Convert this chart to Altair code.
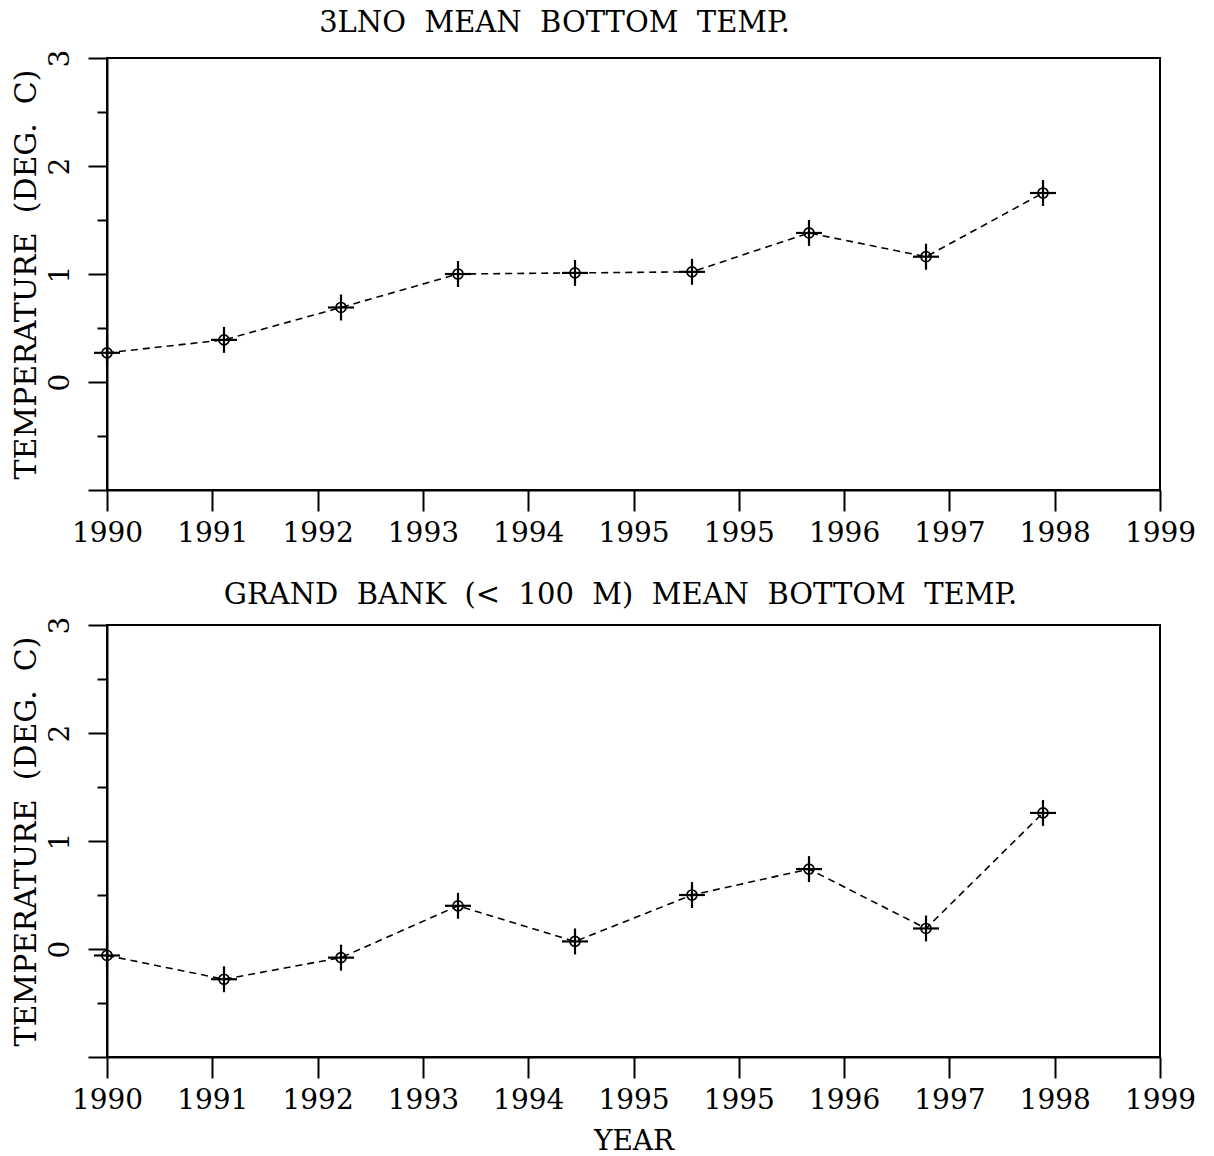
import altair as alt
import pandas as pd

# Survey years and mean bottom temperatures (deg C)
years = [1990, 1991, 1992, 1993, 1994, 1995, 1996, 1997, 1998]
temp_3lno = [0.27, 0.39, 0.69, 1.00, 1.01, 1.02, 1.38, 1.16, 1.75]
temp_grand_bank = [-0.06, -0.28, -0.08, 0.40, 0.07, 0.50, 0.74, 0.19, 1.26]
temp_err = [0.12, 0.12, 0.12, 0.12, 0.12, 0.12, 0.12, 0.12, 0.12]

# Year axis: eleven evenly spaced ticks across 1990-1999 with rounded labels
x_tick_values = [1990.0, 1990.9, 1991.8, 1992.7, 1993.6, 1994.5,
                 1995.4, 1996.3, 1997.2, 1998.1, 1999.0]
x_tick_labels = ["1990", "1991", "1992", "1993", "1994", "1995",
                 "1995", "1996", "1997", "1998", "1999"]
y_tick_values = [-1, -0.5, 0, 0.5, 1, 1.5, 2, 2.5, 3]

FONT = "DejaVu Serif"
NB = "\u00a0"

x_label_expr = ("[" + ",".join(f"'{l}'" for l in x_tick_labels) + "]"
                "[round((datum.value - 1990) / 0.9)]")


def panel(values, title, title_dx, title_offset, x_title):
    df = pd.DataFrame({"year": years, "temp": values, "err": temp_err})
    df["lo"] = df["temp"] - df["err"]
    df["hi"] = df["temp"] + df["err"]

    x = alt.X(
        "year:Q",
        scale=alt.Scale(domain=[1990, 1999], nice=False, zero=False),
        axis=alt.Axis(
            values=x_tick_values,
            labelExpr=x_label_expr,
            labelOverlap=False,
            labelFlush=False,
            title=x_title if x_title else None,
            tickSize=21,
            labelPadding=8,
            titlePadding=13,
        ),
    )
    y = alt.Y(
        "temp:Q",
        scale=alt.Scale(domain=[-1, 3], nice=False, zero=False),
        axis=alt.Axis(
            values=y_tick_values,
            labelExpr="(datum.value == -1 || datum.value % 1 != 0) ? '' : format(datum.value, 'd')",
            labelAngle=-90,
            tickSize={"condition": {"test": "datum.value % 1 === 0", "value": 19}, "value": 10},
            labelPadding=14,
            title="TEMPERATURE" + NB + NB + "(DEG." + NB + NB + "C)",
            titleFontSize=30,
            titlePadding=5,
        ),
    )

    base = alt.Chart(df)
    line = base.mark_line(color="black", strokeWidth=1.6, strokeDash=[7, 5]).encode(x=x, y=y)
    vbar = base.mark_rule(color="black", strokeWidth=2.2).encode(x="year:Q", y="lo:Q", y2="hi:Q")
    hbar = base.mark_point(shape="M-1,0L1,0", size=676, color="black",
                           strokeWidth=2.2, opacity=1).encode(x="year:Q", y="temp:Q")
    ring = base.mark_point(shape="circle", size=100, color="black",
                           strokeWidth=1.7, opacity=1, filled=False).encode(x="year:Q", y="temp:Q")

    return alt.layer(line, vbar, hbar, ring).properties(
        width=1053,
        height=432,
        title=alt.TitleParams(
            title, font=FONT, fontSize=29, fontWeight="normal", color="black",
            anchor="middle", dx=title_dx, offset=title_offset,
        ),
    )


top = panel(temp_3lno, "3LNO" + NB + NB + "MEAN" + NB + NB + "BOTTOM" + NB + NB + "TEMP.",
            -79, 11, None)
bottom = panel(temp_grand_bank,
               "GRAND" + NB + NB + "BANK" + NB + NB + "(<" + NB + NB + "100" + NB + NB + "M)" + NB + NB
               + "MEAN" + NB + NB + "BOTTOM" + NB + NB + "TEMP.", -13, 6, "YEAR")

chart = alt.vconcat(top, bottom, spacing=32).properties(
    padding={"left": 10, "top": 8, "right": 10, "bottom": 5}
).configure(
    font=FONT,
).configure_view(
    stroke="black", strokeWidth=2,
).configure_axis(
    labelFont=FONT, labelFontSize=28, labelColor="black",
    titleFont=FONT, titleFontSize=28, titleColor="black", titleFontWeight="normal",
    domainColor="black", domainWidth=2, tickColor="black", tickWidth=2,
    grid=False,
)

chart.save("out.html", embed_options={"renderer": "svg", "actions": False})
